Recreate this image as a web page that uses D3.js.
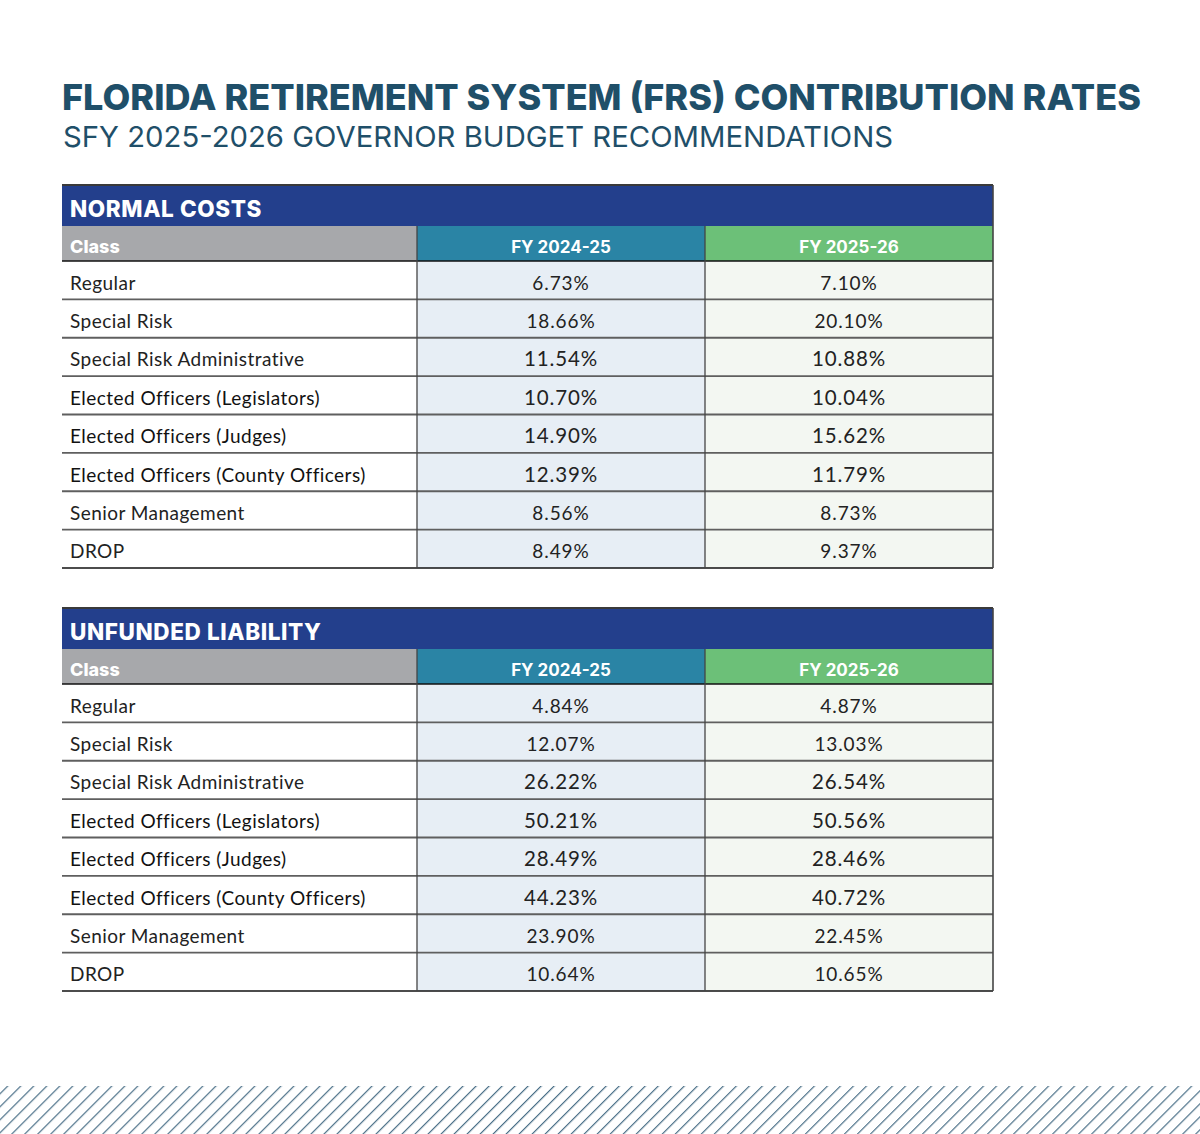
<!DOCTYPE html>
<html>
<head>
<meta charset="utf-8">
<script src="https://cdn.jsdelivr.net/npm/d3@7"></script>
<style>
  body { margin: 0; background: #fff; }
  svg { display: block; }
</style>
</head>
<body>
<script>
// chart text and values
var title = "FLORIDA RETIREMENT SYSTEM (FRS) CONTRIBUTION RATES";
var subtitle = "SFY 2025-2026 GOVERNOR BUDGET RECOMMENDATIONS";
var columns = ["Class", "FY 2024-25", "FY 2025-26"];
var classes = [
	"Regular",
	"Special Risk",
	"Special Risk Administrative",
	"Elected Officers (Legislators)",
	"Elected Officers (Judges)",
	"Elected Officers (County Officers)",
	"Senior Management",
	"DROP"
];
var normal2425 = ["6.73%", "18.66%", "11.54%", "10.70%", "14.90%", "12.39%", "8.56%", "8.49%"];
var normal2526 = ["7.10%", "20.10%", "10.88%", "10.04%", "15.62%", "11.79%", "8.73%", "9.37%"];
var unfunded2425 = ["4.84%", "12.07%", "26.22%", "50.21%", "28.49%", "44.23%", "23.90%", "10.64%"];
var unfunded2526 = ["4.87%", "13.03%", "26.54%", "50.56%", "28.46%", "40.72%", "22.45%", "10.65%"];

var tables = [
	{ name: "NORMAL COSTS", a: normal2425, b: normal2526 },
	{ name: "UNFUNDED LIABILITY", a: unfunded2425, b: unfunded2526 }
];

var w = 1200,
    h = 1134;

var svg = d3.select("body")
	.append("svg")
	.attr("width", w)
	.attr("height", h);

// diagonal stripes at the bottom
var defs = svg.append("defs");
var pat = defs.append("pattern")
	.attr("id", "stripes")
	.attr("patternUnits", "userSpaceOnUse")
	.attr("width", 9.2)
	.attr("height", 9.2)
	.attr("patternTransform", "rotate(45)");
pat.append("line")
	.attr("x1", 0).attr("y1", 0)
	.attr("x2", 0).attr("y2", 9.2)
	.attr("stroke", "#4b7088")
	.attr("stroke-width", 2.4);

svg.append("rect")
	.attr("x", 0)
	.attr("y", 1086)
	.attr("width", w)
	.attr("height", h - 1086)
	.attr("fill", "url(#stripes)");

// titles
svg.append("text")
	.attr("x", 62)
	.attr("y", 110)
	.attr("textLength", 1079)
	.attr("lengthAdjust", "spacingAndGlyphs")
	.style("font-family", "Inter, 'Open Sans', sans-serif")
	.style("font-weight", 800)
	.style("font-size", "36px")
	.attr("fill", "#1f4f69")
	.text(title);

svg.append("text")
	.attr("x", 63)
	.attr("y", 147)
	.attr("textLength", 830)
	.attr("lengthAdjust", "spacingAndGlyphs")
	.style("font-family", "Inter, 'Open Sans', sans-serif")
	.style("font-weight", 400)
	.style("font-size", "29px")
	.attr("fill", "#1f4f69")
	.text(subtitle);

// column positions
var x = d3.scaleOrdinal()
	.domain(columns)
	.range([62, 417, 705]);
var xEnd = 993;
var colWidth = function(c, i) {
	return (i < columns.length - 1 ? x(columns[i + 1]) : xEnd) - x(c);
};
var headFill = ["#a7a8ab", "#2a84a5", "#6cc078"];
var cellFill = [null, "#e7eef5", "#f3f7f2"];
var bigRows = [2, 3, 4, 5];

function drawTable(t, top) {
	var g = svg.append("g").attr("class", "table");
	var barBottom = top + 41,
	    headBottom = barBottom + 35,
	    bottom = headBottom + 307;

	var y = d3.scaleBand()
		.domain(classes)
		.range([headBottom, bottom]);

	// section title bar
	g.append("rect")
		.attr("x", 62)
		.attr("y", top)
		.attr("width", xEnd - 62)
		.attr("height", barBottom - top)
		.attr("fill", "#233f8c");
	g.append("line")
		.attr("x1", 62).attr("x2", xEnd)
		.attr("y1", top).attr("y2", top)
		.attr("stroke", "#3a3a3a")
		.attr("stroke-width", 2);
	g.append("text")
		.attr("x", 70)
		.attr("y", top + 32)
		.style("font-family", "Inter, 'Open Sans', sans-serif")
		.style("font-weight", 800)
		.style("font-size", "22.5px")
		.style("letter-spacing", "0.6px")
		.attr("fill", "#fff")
		.text(t.name);

	// header row
	columns.forEach(function(c, i) {
		g.append("rect")
			.attr("x", x(c))
			.attr("y", barBottom)
			.attr("width", colWidth(c, i))
			.attr("height", headBottom - barBottom)
			.attr("fill", headFill[i]);
		g.append("text")
			.attr("x", i === 0 ? 70 : x(c) + colWidth(c, i) / 2)
			.attr("y", barBottom + 27)
			.style("text-anchor", i === 0 ? "start" : "middle")
			.style("font-family", "Inter, 'Open Sans', sans-serif")
			.style("font-weight", i === 0 ? 800 : 700)
			.style("font-size", i === 0 ? "18px" : "17px")
			.attr("fill", "#fff")
			.text(c);
	});

	// body cells
	[null, t.a, t.b].forEach(function(vals, i) {
		if (!vals) return;
		g.selectAll(".cell" + i)
			.data(classes)
			.enter()
			.append("rect")
			.attr("x", x(columns[i]))
			.attr("y", function(d) { return y(d); })
			.attr("width", colWidth(columns[i], i))
			.attr("height", y.bandwidth())
			.attr("fill", cellFill[i]);
	});

	// row lines
	g.selectAll(".rowline")
		.data(classes.slice(1))
		.enter()
		.append("line")
		.attr("x1", 62).attr("x2", xEnd)
		.attr("y1", function(d) { return y(d); })
		.attr("y2", function(d) { return y(d); })
		.attr("stroke", "#5f5f5f")
		.attr("stroke-width", 1.8);

	[headBottom, bottom].forEach(function(yy) {
		g.append("line")
			.attr("x1", 62).attr("x2", xEnd)
			.attr("y1", yy).attr("y2", yy)
			.attr("stroke", "#111")
			.attr("stroke-width", 1.6);
	});

	// vertical lines
	[x(columns[1]), x(columns[2])].forEach(function(xx) {
		g.append("line")
			.attr("x1", xx).attr("x2", xx)
			.attr("y1", barBottom).attr("y2", bottom)
			.attr("stroke", "#444")
			.attr("stroke-width", 1.3);
	});
	g.append("line")
		.attr("x1", xEnd).attr("x2", xEnd)
		.attr("y1", top).attr("y2", bottom)
		.attr("stroke", "#444")
		.attr("stroke-width", 1.6);

	// class labels
	g.selectAll(".label")
		.data(classes)
		.enter()
		.append("text")
		.attr("x", 70)
		.attr("y", function(d) { return y(d) + y.bandwidth() / 2 + 9.5; })
		.style("font-family", "Lato, 'Open Sans', sans-serif")
		.style("font-size", "19px")
		.style("letter-spacing", "0.45px")
		.attr("fill", function(d, i) { return i > 2 && i < 6 ? "#111" : "#222"; })
		.text(function(d) { return d; });

	// values
	[t.a, t.b].forEach(function(vals, k) {
		var c = columns[k + 1];
		g.selectAll(".val" + k)
			.data(vals)
			.enter()
			.append("text")
			.attr("x", x(c) + colWidth(c, k + 1) / 2)
			.attr("y", function(d, i) { return y(classes[i]) + y.bandwidth() / 2 + 9.5; })
			.style("text-anchor", "middle")
			.style("font-family", "Lato, 'Open Sans', sans-serif")
			.style("font-size", function(d, i) { return bigRows.indexOf(i) >= 0 ? "20.5px" : "19px"; })
			.style("letter-spacing", "0.9px")
			.attr("fill", "#222")
			.text(function(d) { return d; });
	});
}

drawTable(tables[0], 185);
drawTable(tables[1], 608);
</script>
</body>
</html>
